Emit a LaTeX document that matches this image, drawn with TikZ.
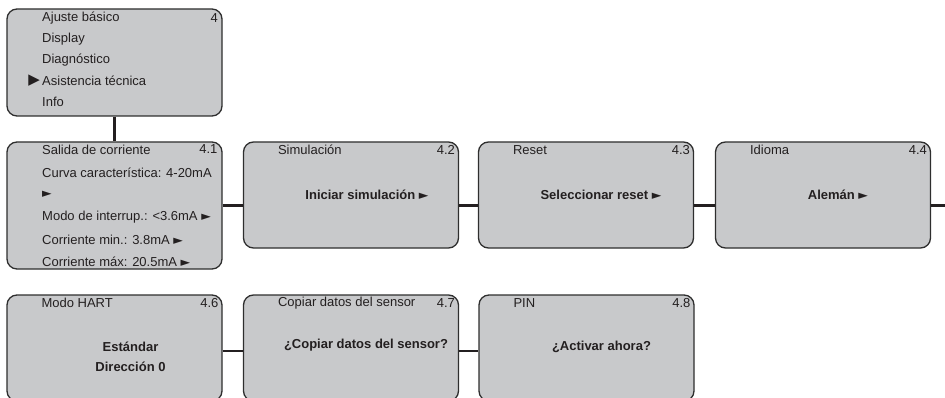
\documentclass[tikz,border=0pt]{standalone}
\usepackage{fontspec}
\setmainfont{Liberation Sans}
\newfontfamily\symfont{DejaVu Sans}
\definecolor{boxfill}{HTML}{C8C9CB}
\definecolor{boxline}{HTML}{2E2E2E}
\definecolor{inkcol}{HTML}{231F20}
\newcommand{\nxt}{{\symfont\fontsize{12.5}{14}\selectfont ►}}
\begin{document}
\begin{tikzpicture}[x=1pt,y=-1pt,
    box/.style={draw=boxline, fill=boxfill, line width=1.3pt, rounded corners=10pt,
        inner sep=0pt, minimum width=215pt},
    link/.style={draw=inkcol, line width=2.2pt},
    txt/.style={anchor=west, inner sep=0pt, text=inkcol, font=\fontsize{13}{15}\selectfont},
    num/.style={anchor=east, inner sep=0pt, text=inkcol, font=\fontsize{13}{15}\selectfont},
    big/.style={inner sep=0pt, align=center, text=inkcol, font=\bfseries\fontsize{13}{20}\selectfont}]
    \useasboundingbox (0,0) rectangle (945,398);
    \node[box, minimum height=107pt] (menu) at (114.5,62.5) {};
    \node[box, minimum height=127pt] (salida) at (114.5,205.5) {};
    \node[box, minimum height=106pt] (sim) at (351,195) {};
    \node[box, minimum height=106pt] (reset) at (586,195) {};
    \node[box, minimum height=106pt] (idioma) at (823,195) {};
    \node[box, minimum height=106pt] (hart) at (114.5,348) {};
    \node[box, minimum height=106pt] (copia) at (351,348) {};
    \node[box, minimum height=106pt] (pin) at (586.5,348) {};
    \foreach \t [count=\i] in {Ajuste básico, Display, Diagnóstico, Asistencia técnica, Info}
        \node[txt] (m\i) at (42,-3+21*\i) {\t};
    \node[num] at (218,18) {4};
    \node[anchor=east, inner sep=0pt, text=inkcol, font=\symfont\fontsize{15}{16}\selectfont] at ([xshift=-2pt]m4.west) {▶};
    \foreach \t [count=\i] in {{Salida de corriente}, {Curva característica: 4-20mA}, {\nxt},
        {Modo de interrup.: <3.6mA \nxt}, {Corriente min.: 3.8mA \nxt}, {Corriente máx: 20.5mA \nxt}}
        \node[txt] (s\i) at (42,127.6+22.4*\i) {\t};
    \node[num] at ([xshift=-5pt,yshift=-8pt]salida.north east) {4.1};
    \foreach \b/\t/\n in {sim/Simulación/4.2, reset/Reset/4.3, idioma/Idioma/4.4,
        hart/Modo HART/4.6, copia/Copiar datos del sensor/4.7, pin/PIN/4.8} {
        \node[txt] at ([xshift=35pt,yshift=-8.5pt]\b.north west) {\t};
        \node[num] at ([xshift=-4pt,yshift=-8.5pt]\b.north east) {\n};
    }
    \node[big] at ([xshift=16pt]sim.center) {Iniciar simulación \nxt};
    \node[big] at ([xshift=15pt]reset.center) {Seleccionar reset \nxt};
    \node[big] at ([xshift=15pt]idioma.center) {Alemán \nxt};
    \node[big] at ([xshift=16pt,yshift=-9pt]hart.center) {Estándar\\Dirección 0};
    \node[big] at ([xshift=15pt,yshift=3pt]copia.center) {¿Copiar datos del sensor?};
    \node[big] at ([xshift=15pt,yshift=1pt]pin.center) {¿Activar ahora?};
    \coordinate (fin) at (945,205.5);
    \draw[link] (menu.south) -- (salida.north);
    \draw[link] (salida.east) -- (salida.east -| sim.west);
    \draw[link] (sim.east |- salida.east) -- (reset.west |- salida.east);
    \draw[link] (reset.east |- salida.east) -- (idioma.west |- salida.east);
    \draw[link] (idioma.east |- salida.east) -- (fin);
    \draw[link] ([yshift=-3pt]hart.east) -- ([yshift=-3pt]copia.west);
    \draw[link] ([yshift=-3pt]copia.east) -- ([yshift=-3pt]pin.west);
\end{tikzpicture}
\end{document}
